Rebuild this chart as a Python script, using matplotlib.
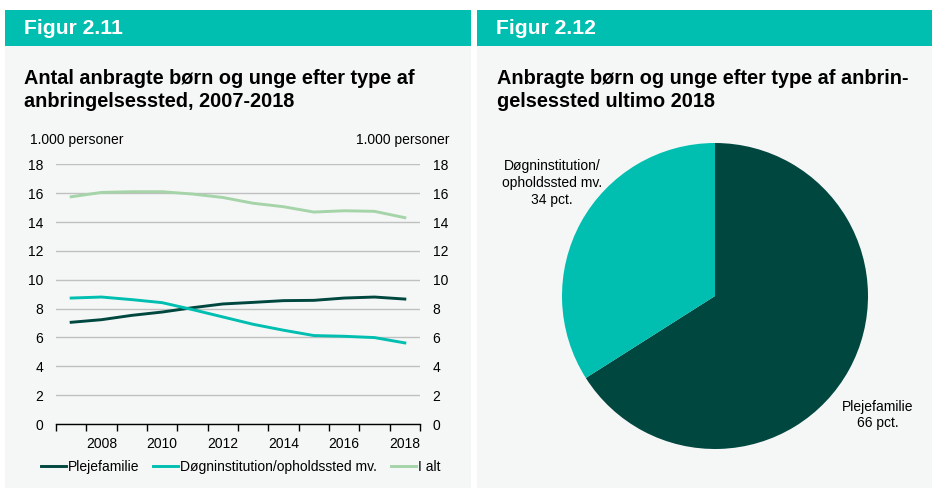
import matplotlib
matplotlib.use("Agg")

import numpy as np
import matplotlib.pyplot as plt
from matplotlib.patches import Rectangle

# data
years = [2007, 2008, 2009, 2010, 2011, 2012, 2013, 2014, 2015, 2016, 2017, 2018]
plejefamilie = [7.05, 7.23, 7.53, 7.76, 8.06, 8.32, 8.43, 8.55, 8.57, 8.73, 8.80, 8.66]
doegninst = [8.73, 8.80, 8.62, 8.41, 7.93, 7.42, 6.91, 6.50, 6.13, 6.08, 5.99, 5.62]
i_alt = [15.75, 16.05, 16.10, 16.10, 15.94, 15.70, 15.30, 15.06, 14.69, 14.78, 14.74, 14.30]
yticks = [0, 2, 4, 6, 8, 10, 12, 14, 16, 18]
xtick_years = [2008, 2010, 2012, 2014, 2016, 2018]

pie_labels = ["Plejefamilie\n66 pct.", "Døgninstitution/\nopholdssted mv.\n34 pct."]
pie_values = [66, 34]

TEAL = "#00bfb0"
DARK = "#00473f"
LIGHT = "#a6d4a9"
BG = "#f5f7f7"
GRID = "#c0c0c0"

W, H = 932, 491
plt.rcParams['font.family'] = ['Liberation Sans', 'DejaVu Sans']

fig = plt.figure(figsize=(W / 100, H / 100), dpi=100)
fig.patch.set_facecolor("white")


def box(left, top, width, height):
	# pixel box -> figure fraction
	return [left / W, 1 - (top + height) / H, width / W, height / H]


def px(x, y):
	return x / W, 1 - y / H


# panel backgrounds and header bars
for x0, x1, head in [(5, 471, "Figur 2.11"), (477, 932, "Figur 2.12")]:
	fig.patches.append(Rectangle(px(x0, 488), (x1 - x0) / W, (488 - 45) / H,
		transform=fig.transFigure, facecolor=BG, edgecolor="none", zorder=-5))
	fig.patches.append(Rectangle(px(x0, 46), (x1 - x0) / W, 36 / H,
		transform=fig.transFigure, facecolor=TEAL, edgecolor="none", zorder=-5))
	fig.text(*px(x0 + 19, 28), head, color="white", fontsize=15.2,
		fontweight="bold", va="center", ha="left")

fig.text(*px(24, 107), "Antal anbragte børn og unge efter type af\nanbringelsessted, 2007-2018",
	fontsize=14.3, fontweight="bold", va="baseline", ha="left", linespacing=1.25)
fig.text(*px(497, 107), "Anbragte børn og unge efter type af anbrin-\ngelsessted ultimo 2018",
	fontsize=14.3, fontweight="bold", va="baseline", ha="left", linespacing=1.25)

fig.text(*px(30, 140), "1.000 personer", fontsize=10, va="center", ha="left")
fig.text(*px(449, 140), "1.000 personer", fontsize=10, va="center", ha="right")

# line chart
ax = fig.add_axes(box(56, 164.3, 364, 259.7), zorder=2)
ax.set_facecolor("none")
xs = np.arange(len(years))
l1, = ax.plot(xs, plejefamilie, color=DARK, lw=2.1, label="Plejefamilie")
l2, = ax.plot(xs, doegninst, color=TEAL, lw=2.1, label="Døgninstitution/opholdssted mv.")
l3, = ax.plot(xs, i_alt, color=LIGHT, lw=2.1, label="I alt")
ax.set_xlim(-0.5, len(years) - 0.5)
ax.set_ylim(0, 18)
ax.set_yticks(yticks)
ax.grid(axis="y", color=GRID, lw=1)
ax.set_axisbelow(True)
for s in ["top", "left", "right"]:
	ax.spines[s].set_visible(False)
ax.spines["bottom"].set_color("black")
ax.spines["bottom"].set_linewidth(1)
ax.set_xticks([years.index(y) for y in xtick_years])
ax.set_xticklabels([str(y) for y in xtick_years])
ax.set_xticks(np.arange(len(years) + 1) - 0.5, minor=True)
ax.tick_params(axis="x", which="major", length=0, labelsize=10, pad=9)
ax.tick_params(axis="x", which="minor", length=5, color="black", width=1)
ax.tick_params(axis="y", length=0, labelsize=10, pad=9, labelright=True)

fig.legend(handles=[l1, l2, l3], loc="center left", bbox_to_anchor=px(28, 467),
	ncol=3, frameon=False, fontsize=10, handlelength=1.8, handletextpad=0.15,
	columnspacing=1.0)

# pie chart
r = 153
pax = fig.add_axes(box(715 - r, 296 - r, 2 * r, 2 * r), zorder=2)
pax.pie(pie_values, colors=[DARK, TEAL], startangle=90, counterclock=False,
	wedgeprops=dict(linewidth=0))
pax.set_aspect("equal")
pax.set_xlim(-1, 1)
pax.set_ylim(-1, 1)
pax.axis("off")

fig.text(*px(878, 415), pie_labels[0], fontsize=10, ha="center", va="center",
	linespacing=1.25)
fig.text(*px(552, 183), pie_labels[1], fontsize=10, ha="center", va="center",
	linespacing=1.25)

fig.savefig("out.png", dpi=100, facecolor="white")
